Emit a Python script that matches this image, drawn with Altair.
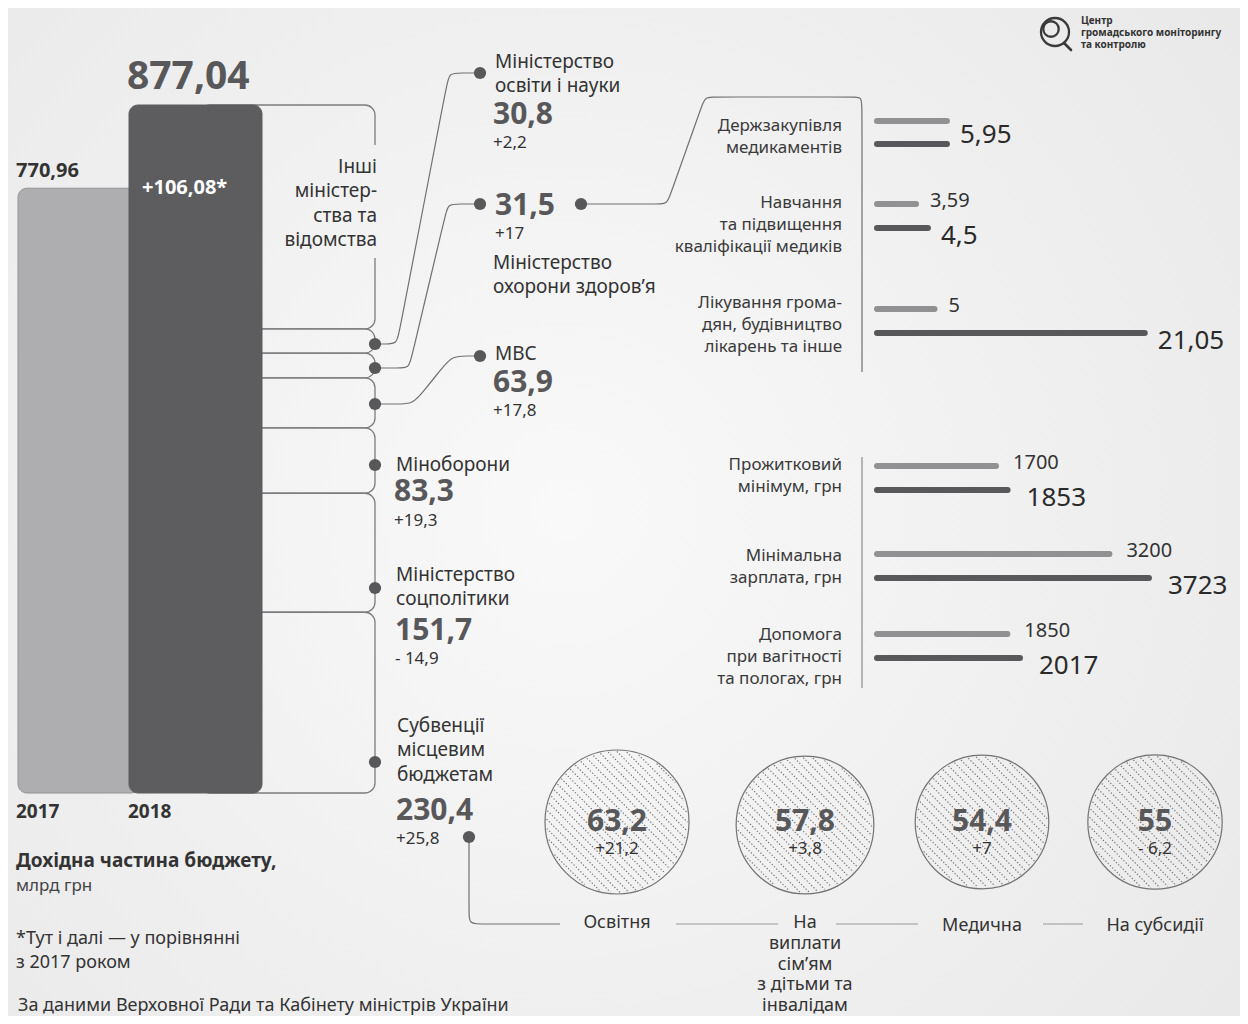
import altair as alt
import numpy as np
import pandas as pd

OFF = 8                      # page margin: layout below is in page pixels
W, H = 1232, 1008
FONT = "Noto Sans"
DARK = "#333333"
NUM = "#58585a"
DOT = "#58585a"
LINE = "#7c7c7e"

# ---------------- data ----------------
years = ["2017", "2018"]
budget = [770.96, 877.04]

ministries = ["Міністерство\nосвіти і науки", "Міністерство\nохорони здоров’я", "МВС",
              "Міноборони", "Міністерство\nсоцполітики", "Субвенції\nмісцевим\nбюджетам"]
ministry_values = [30.8, 31.5, 63.9, 83.3, 151.7, 230.4]
ministry_deltas = ["+2,2", "+17", "+17,8", "+19,3", "- 14,9", "+25,8"]
others_label = "Інші\nміністер-\nства та\nвідомства"

health_items = ["Держзакупівля\nмедикаментів",
                "Навчання\nта підвищення\nкваліфікації медиків",
                "Лікування грома-\nдян, будівництво\nлікарень та інше"]
health_2017 = [5.95, 3.59, 5.0]
health_2018 = [5.95, 4.5, 21.05]

social_items = ["Прожитковий\nмінімум, грн", "Мінімальна\nзарплата, грн",
                "Допомога\nпри вагітності\nта пологах, грн"]
social_2017 = [1700, 3200, 1850]
social_2018 = [1853, 3723, 2017]

subv_items = ["Освітня", "На\nвиплати\nсім’ям\nз дітьми та\nінвалідам", "Медична", "На субсидії"]
subv_values = [63.2, 57.8, 54.4, 55.0]
subv_deltas = ["+21,2", "+3,8", "+7", "- 6,2"]

title_lines = ["Дохідна частина бюджету,", "млрд грн"]
note_text = "*Тут і далі — у порівнянні\nз 2017 роком"
source = "За даними Верховної Ради та Кабінету міністрів України"
logo_text = "Центр\nгромадського моніторингу\nта контролю"

# ---------------- layout (reference pixel coordinates) ----------------
bar_x = [(18, 140), (129, 262)]
bar_base_y, bar_top_y = 793, 105
seg_x = (200, 375)
seg_r = 10
others_gap = (145, 258)
ministry_layout = [  # name x, first line y, value x,y, delta x,y
    (495, 62, 493, 115, 493, 143),
    (493, 263, 495, 206, 495, 234),
    (495, 354, 493, 383, 493, 411),
    (396, 465, 394, 492, 394, 521),
    (396, 575, 395, 631, 395, 659),
    (397, 726, 396, 811, 396, 839),
]
dots = [(375, 344), (375, 368), (375, 404), (480, 73), (480, 204), (581, 204),
        (480, 356), (375, 465), (375, 588), (375, 762), (469, 837)]
connectors = [
    ([(375, 344), (397, 344), (449, 73), (480, 73)], 12),
    ([(375, 368), (409, 368), (448, 204), (480, 204)], 11),
    ([(375, 404), (413, 404), (452, 356), (480, 356)], 16),
    ([(581, 204), (667, 204), (705, 97), (862, 97), (862, 372)], 10),
    ([(469, 837), (469, 924), (560, 924)], 12),
]
plain_lines = [[(862, 457), (862, 688)]]
sub_segments = [[(676, 924), (778, 924)], [(836, 924), (918, 924)], [(1043, 924), (1083, 924)]]

label_right_x = 842
health_y = [(121, 144), (204, 228), (309, 333)]
health_label_y = [126, 203, 303]
social_y = [(466, 490), (554, 578), (634, 658)]
social_label_y = [465, 556, 635]
bar_start = 877

circle_cx = [617, 805, 982, 1155]
circle_cy = [822, 825, 822, 822]
R_MAX = 72
circle_label_y = [923, 923, 926, 926]
circle_label_lh = 20.8


def fmt(v, nd=None):
    s = f"{v:.{nd}f}" if nd is not None else f"{v:g}"
    return s.replace(".", ",")


def PX(f):
    return alt.X(f, type="quantitative", scale=None, axis=None)


def PY(f):
    return alt.Y(f, type="quantitative", scale=None, axis=None)


def line_rows(text, x, y0, lh):
    return [(x, y0 + i * lh, t) for i, t in enumerate(text.split("\n"))]


def text_layer(rows, size, weight="normal", color=DARK, align="left"):
    df = pd.DataFrame(rows, columns=["x", "y", "t"])
    df["x"] = df["x"] - OFF
    df["y"] = df["y"] - OFF
    return alt.Chart(df).mark_text(font=FONT, fontSize=size, fontWeight=weight, color=color,
                                   align=align, baseline="middle").encode(
        x=PX("x"), y=PY("y"), text="t:N")


def rounded(corners, r):
    pts = [corners[0]]
    for i in range(1, len(corners) - 1):
        (x0, y0), (x1, y1), (x2, y2) = corners[i - 1], corners[i], corners[i + 1]

        def toward(ax, ay, bx, by, d):
            L = np.hypot(bx - ax, by - ay)
            return (ax + (bx - ax) * d / L, ay + (by - ay) * d / L)
        pts.append(toward(x1, y1, x0, y0, r))
        pts.append((x1, y1))
        pts.append(toward(x1, y1, x2, y2, r))
    pts.append(corners[-1])
    return pts


def poly_layer(paths, color, width, interp):
    rows = []
    for pid, pts in enumerate(paths):
        for i, (x, y) in enumerate(pts):
            rows.append(dict(pid=pid, i=i, x=x - OFF, y=y - OFF))
    return alt.Chart(pd.DataFrame(rows)).mark_line(
        interpolate=interp, stroke=color, strokeWidth=width).encode(
        x=PX("x"), y=PY("y"), detail="pid:N", order="i:Q")


layers = []

# background
layers.append(alt.Chart(pd.DataFrame({"k": [0]})).mark_rect(
    fill=alt.RadialGradient(gradient="radial",
                            stops=[alt.GradientStop(offset=0, color="#f9f9f9"),
                                   alt.GradientStop(offset=1, color="#e6e6e6")],
                            x1=0.45, y1=0.5, r1=0, x2=0.45, y2=0.5, r2=0.8)).encode(
    x=alt.value(0), x2=alt.value(W), y=alt.value(0), y2=alt.value(H)))

budget_scale = alt.Scale(domain=[0, budget[1]], range=[bar_base_y - OFF, bar_top_y - OFF],
                         nice=False, zero=False)

# ministry segments stacked on the 2018 bar
seg_rows = []
cum = 0.0
for i in reversed(range(len(ministries))):
    seg_rows.append(dict(name=ministries[i], bottom=cum, top=cum + ministry_values[i]))
    cum += ministry_values[i]
seg_df = pd.DataFrame(seg_rows)
seg_df["x0"] = seg_x[0] - OFF
seg_df["x1"] = seg_x[1] - OFF
layers.append(alt.Chart(seg_df).mark_rect(
    cornerRadius=seg_r, fill="transparent", stroke=LINE, strokeWidth=1.3).encode(
    x=PX("x0"), x2=alt.X2("x1"),
    y=alt.Y("top:Q", scale=budget_scale, axis=None), y2=alt.Y2("bottom")))

others_df = pd.DataFrame([dict(bottom=cum, top=budget[1], x0=seg_x[0] - OFF, x1=seg_x[1] - OFF)])
w = seg_x[1] - seg_x[0]
L1 = (w - 2 * seg_r) + np.pi * seg_r / 2 + (others_gap[0] - (bar_top_y + seg_r))
layers.append(alt.Chart(others_df).mark_rect(
    cornerRadius=seg_r, fill="transparent", stroke=LINE, strokeWidth=1.3,
    strokeDash=[float(L1), float(others_gap[1] - others_gap[0]), 3000.0]).encode(
    x=PX("x0"), x2=alt.X2("x1"),
    y=alt.Y("top:Q", scale=budget_scale, axis=None), y2=alt.Y2("bottom")))

# budget bars
bar_df = pd.DataFrame({"year": years, "v": budget,
                       "x0": [b[0] - OFF for b in bar_x], "x1": [b[1] - OFF for b in bar_x]})
layers.append(alt.Chart(bar_df).mark_bar(cornerRadius=9, strokeWidth=1).encode(
    x=PX("x0"), x2=alt.X2("x1"),
    y=alt.Y("v:Q", scale=budget_scale, axis=None), y2=alt.datum(0),
    fill=alt.Fill("year:N", scale=alt.Scale(domain=years, range=["#aeaeb0", "#5d5d5f"]), legend=None),
    stroke=alt.Stroke("year:N", scale=alt.Scale(domain=years, range=["#939395", "#5d5d5f"]), legend=None)))

# budget value labels
layers.append(alt.Chart(pd.DataFrame({"v": [budget[0]], "t": [fmt(budget[0], 2)], "x": [16 - OFF]}))
              .mark_text(font=FONT, fontSize=20, fontWeight="bold", color=DARK, align="left",
                         baseline="alphabetic", dy=-11)
              .encode(x=PX("x"), y=alt.Y("v:Q", scale=budget_scale, axis=None), text="t:N"))
layers.append(alt.Chart(pd.DataFrame({"v": [budget[1]], "t": [fmt(budget[1], 2)], "x": [127 - OFF]}))
              .mark_text(font=FONT, fontSize=39, fontWeight="bold", color=NUM, align="left",
                         baseline="alphabetic", dy=-16)
              .encode(x=PX("x"), y=alt.Y("v:Q", scale=budget_scale, axis=None), text="t:N"))
layers.append(text_layer([(142, 188, "+" + fmt(budget[1] - budget[0], 2) + "*")], 20, "bold", "white"))

# connectors
layers.append(poly_layer([rounded(c, r) for c, r in connectors], "#707072", 1.2, "basis"))
layers.append(poly_layer(plain_lines, "#8a8a8c", 1.2, "linear"))
layers.append(poly_layer(sub_segments, "#9a9a9c", 1.2, "linear"))

# dots
dot_df = pd.DataFrame([dict(x=x - OFF, y=y - OFF) for x, y in dots])
layers.append(alt.Chart(dot_df).mark_circle(size=150, color=DOT, opacity=1).encode(x=PX("x"), y=PY("y")))

# ministry texts
name_rows, val_rows, del_rows = [], [], []
for i, (nx, ny, vx, vy, ddx, ddy) in enumerate(ministry_layout):
    name_rows += line_rows(ministries[i], nx, ny, 24.3)
    val_rows.append((vx, vy, fmt(ministry_values[i])))
    del_rows.append((ddx, ddy, ministry_deltas[i]))
layers.append(text_layer(name_rows, 19))
layers.append(text_layer(val_rows, 30, "bold", NUM))
layers.append(text_layer(del_rows, 17))
layers.append(text_layer(line_rows(others_label, 377, 167, 24.3), 19, align="right"))

# right group labels
grp_rows = []
for i, t in enumerate(health_items):
    grp_rows += line_rows(t, label_right_x, health_label_y[i], 22)
for i, t in enumerate(social_items):
    grp_rows += line_rows(t, label_right_x, social_label_y[i], 22)
layers.append(text_layer(grp_rows, 17, color="#3a3a3a", align="right"))

bar_colors = alt.Scale(domain=years, range=["#919193", "#58585a"])


def hbars(v17, v18, ys, scale, small_dx, big_dx):
    rows, small, big = [], [], []
    for i, (a, b) in enumerate(zip(v17, v18)):
        y17, y18 = ys[i]
        rows.append(dict(v=a, year=years[0], y=y17 - OFF))
        rows.append(dict(v=b, year=years[1], y=y18 - OFF))
        if a == b:
            big.append(dict(v=b, t=fmt(b), y=(y17 + y18) / 2 + 2 - OFF))
        else:
            small.append(dict(v=a, t=fmt(a), y=y17 - 3 - OFF))
            big.append(dict(v=b, t=fmt(b), y=y18 + 8 - OFF))
    out = [alt.Chart(pd.DataFrame(rows)).mark_rule(strokeWidth=6, strokeCap="round").encode(
        x=alt.X("v:Q", scale=scale, axis=None), x2=alt.value(bar_start - OFF), y=PY("y"),
        color=alt.Color("year:N", scale=bar_colors, legend=None))]
    if small:
        out.append(alt.Chart(pd.DataFrame(small)).mark_text(
            font=FONT, fontSize=20, color=DARK, align="left", baseline="middle", dx=small_dx).encode(
            x=alt.X("v:Q", scale=scale, axis=None), y=PY("y"), text="t:N"))
    out.append(alt.Chart(pd.DataFrame(big)).mark_text(
        font=FONT, fontSize=26, color="#2a2a2a", align="left", baseline="middle", dx=big_dx).encode(
        x=alt.X("v:Q", scale=scale, axis=None), y=PY("y"), text="t:N"))
    return out


hs = alt.Scale(domain=[0, 21], range=[869 - OFF, 869 - OFF + 13.1 * 21], nice=False, zero=False)
ss = alt.Scale(domain=[0, 4000], range=[867.5 - OFF, 867.5 - OFF + 0.0756 * 4000], nice=False, zero=False)
layers += hbars(health_2017, health_2018, health_y, hs, 14, 13)
layers += hbars(social_2017, social_2018, social_y, ss, 17, 19)

# subvention circles
vmax = max(subv_values)
s2 = 1 / np.sqrt(2)
hatch = []
for cx, cy, v in zip(circle_cx, circle_cy, subv_values):
    r = R_MAX * np.sqrt(v / vmax) - 1.5
    for d in np.arange(-r + 3.25, r, 6.5):
        h = np.sqrt(max(r * r - d * d, 0))
        mx, my = cx + d * s2, cy - d * s2
        hatch.append(dict(x=mx - h * s2 - OFF, y=my - h * s2 - OFF,
                          x2=mx + h * s2 - OFF, y2=my + h * s2 - OFF))
layers.append(alt.Chart(pd.DataFrame(hatch)).mark_rule(
    stroke="#6f6f71", strokeWidth=1.1, strokeDash=[1.3, 1.9]).encode(
    x=PX("x"), y=PY("y"), x2=alt.X2("x2"), y2=alt.Y2("y2")))
circ_df = pd.DataFrame({"v": subv_values, "x": [c - OFF for c in circle_cx],
                        "y": [c - OFF for c in circle_cy]})
layers.append(alt.Chart(circ_df).mark_point(shape="circle", filled=False, stroke="#737375",
                                            strokeWidth=1.2, opacity=1).encode(
    x=PX("x"), y=PY("y"),
    size=alt.Size("v:Q", scale=alt.Scale(domain=[0, vmax], range=[0, (2 * R_MAX) ** 2],
                                         zero=True, nice=False), legend=None)))
layers.append(text_layer([(cx, 822, fmt(v)) for cx, v in zip(circle_cx, subv_values)], 30, "bold", NUM, "center"))
layers.append(text_layer([(cx, 849, d) for cx, d in zip(circle_cx, subv_deltas)], 17, align="center"))
cl_rows = []
for cx, t, y0 in zip(circle_cx, subv_items, circle_label_y):
    cl_rows += line_rows(t, cx, y0, circle_label_lh)
layers.append(text_layer(cl_rows, 18, align="center"))

# left bottom texts
layers.append(text_layer([(16 + 112 * i, 812, y) for i, y in enumerate(years)], 19, "bold", DARK))
layers.append(text_layer([(16, 861, title_lines[0])], 19, "bold", DARK))
layers.append(text_layer([(16, 886, title_lines[1])], 17, color="#444444"))
layers.append(text_layer(line_rows(note_text, 16, 939, 24), 18))
layers.append(text_layer([(18, 1006, source)], 18))

# logo
logo_c = pd.DataFrame({"x": [1055 - OFF, 1051 - OFF], "y": [32 - OFF, 29 - OFF], "s": [784, 240]})
layers.append(alt.Chart(logo_c).mark_point(shape="circle", filled=False, stroke="#3a3a3a",
                                           strokeWidth=2.3, opacity=1).encode(
    x=PX("x"), y=PY("y"), size=alt.Size("s:Q", scale=None, legend=None)))
layers.append(alt.Chart(pd.DataFrame({"x": [1064 - OFF], "y": [43 - OFF], "x2": [1071 - OFF], "y2": [50 - OFF]}))
              .mark_rule(stroke="#3a3a3a", strokeWidth=2.6, strokeCap="round").encode(
    x=PX("x"), y=PY("y"), x2=alt.X2("x2"), y2=alt.Y2("y2")))
layers.append(text_layer(line_rows(logo_text, 1081, 21, 12), 10, "bold", "#333333"))

chart = alt.layer(*layers).resolve_scale(
    x="independent", y="independent", color="independent", fill="independent",
    stroke="independent", size="independent").properties(
    width=W, height=H, padding=0, background="#ebebeb",
    autosize=alt.AutoSizeParams(type="none")).configure_view(stroke=None)

chart.save("out.html", embed_options={"renderer": "svg", "actions": False})
